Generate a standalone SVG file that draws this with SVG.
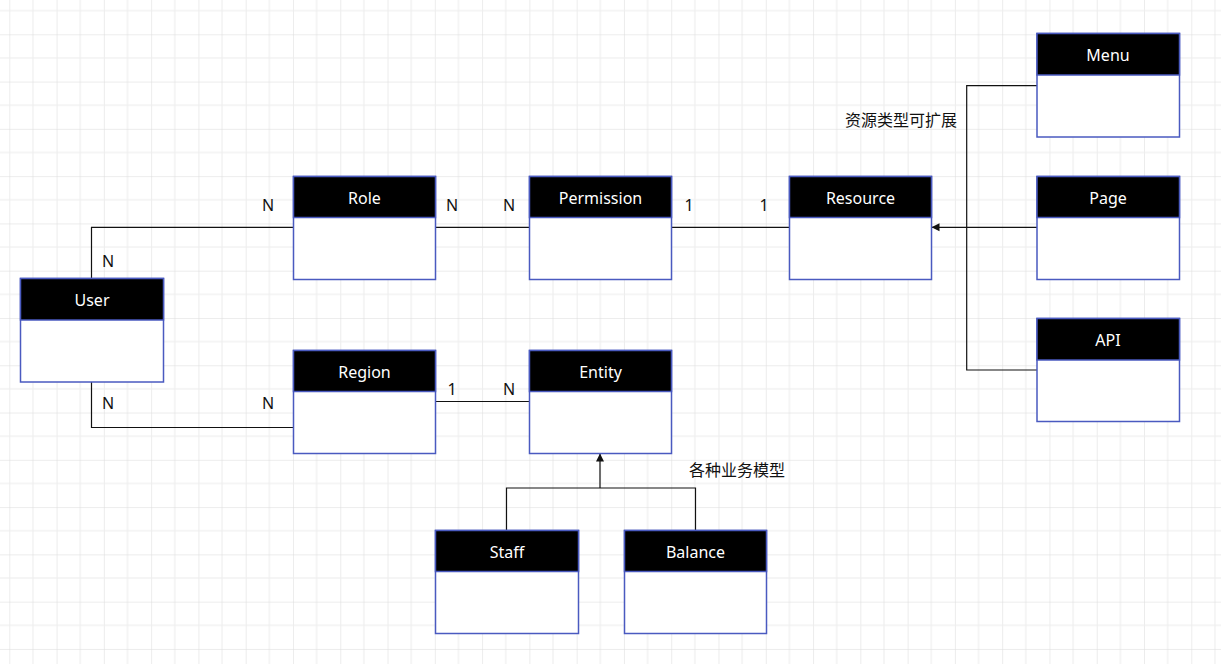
<svg xmlns="http://www.w3.org/2000/svg" width="1221" height="664" viewBox="0 0 1221 664">
<defs>
<pattern id="grid" patternUnits="userSpaceOnUse" x="9.3" y="34.3" width="47.28" height="47.28">
<line x1="0" y1="0" x2="0" y2="47.28" stroke="#dadada" stroke-width="1"/>
<line x1="23.64" y1="0" x2="23.64" y2="47.28" stroke="#ececec" stroke-width="1"/>
<line x1="0" y1="0" x2="47.28" y2="0" stroke="#dadada" stroke-width="1"/>
<line x1="0" y1="23.64" x2="47.28" y2="23.64" stroke="#ececec" stroke-width="1"/>
</pattern>
<marker id="tri" viewBox="0 0 10 10" refX="10" refY="5" markerWidth="8" markerHeight="9" markerUnits="userSpaceOnUse" orient="auto">
<path d="M0,0 L10,5 L0,10 Z" fill="#111"/>
</marker>
<style>
.body{fill:#fff;stroke:#4a5ac0;stroke-width:1.5}
.head{fill:#000;stroke:#4a5ac0;stroke-width:1.5}
.title{font-family:"Noto Sans","Noto Sans CJK SC",sans-serif;font-size:16px;fill:#fff;text-anchor:middle}
.lbl{font-family:"Noto Sans","Noto Sans CJK SC",sans-serif;font-size:16px;fill:#111;text-anchor:middle}
.note{font-family:"Noto Sans CJK SC","Noto Sans",sans-serif;font-size:16px;fill:#111}
.conn{fill:none;stroke:#111;stroke-width:1.2}
</style>
</defs>
<rect width="1221" height="664" fill="#fff"/>
<rect width="1221" height="664" fill="url(#grid)"/>

<g id="connectors">
<polyline class="conn" points="91.5,278.5 91.5,227.3 293.5,227.3"/>
<polyline class="conn" points="91.5,382 91.5,427.5 293.5,427.5"/>
<line class="conn" x1="435.5" y1="227.3" x2="529.5" y2="227.3"/>
<line class="conn" x1="671.5" y1="227.3" x2="789.5" y2="227.3"/>
<line class="conn" x1="435.5" y1="401.5" x2="529.5" y2="401.5"/>
<polyline class="conn" points="1037,85.7 966.7,85.7 966.7,370 1037,370"/>
<line class="conn" x1="1037" y1="227.3" x2="931.5" y2="227.3" marker-end="url(#tri)"/>
<polyline class="conn" points="506.5,530.5 506.5,488 695.5,488 695.5,530.5"/>
<line class="conn" stroke="#333" x1="600" y1="488" x2="600" y2="453.5" marker-end="url(#tri)"/>
<text class="lbl" x="268" y="211">N</text>
<text class="lbl" x="108" y="267">N</text>
<text class="lbl" x="108" y="409">N</text>
<text class="lbl" x="268" y="409">N</text>
<text class="lbl" x="452" y="211">N</text>
<text class="lbl" x="509" y="211">N</text>
<text class="lbl" x="689" y="211">1</text>
<text class="lbl" x="764" y="211">1</text>
<text class="lbl" x="452" y="395">1</text>
<text class="lbl" x="509" y="395">N</text>
<text class="note" x="845" y="126">资源类型可扩展</text>
<text class="note" x="689" y="476">各种业务模型</text>
</g>

<g id="user"><rect class="body" x="20.5" y="278.5" width="143" height="103.5"/><rect class="head" x="20.5" y="278.5" width="143" height="41.5"/><text class="title" x="92" y="305.5">User</text></g>
<g id="role"><rect class="body" x="293.5" y="176.5" width="142" height="103"/><rect class="head" x="293.5" y="176.5" width="142" height="41"/><text class="title" x="364.5" y="203.5">Role</text></g>
<g id="permission"><rect class="body" x="529.5" y="176.5" width="142" height="103"/><rect class="head" x="529.5" y="176.5" width="142" height="41"/><text class="title" x="600.5" y="203.5">Permission</text></g>
<g id="resource"><rect class="body" x="789.5" y="176.5" width="142" height="103"/><rect class="head" x="789.5" y="176.5" width="142" height="41"/><text class="title" x="860.5" y="203.5">Resource</text></g>
<g id="menu"><rect class="body" x="1037" y="33.5" width="142.5" height="103.5"/><rect class="head" x="1037" y="33.5" width="142.5" height="41.5"/><text class="title" x="1108" y="60.5">Menu</text></g>
<g id="page"><rect class="body" x="1037" y="176.5" width="142.5" height="103"/><rect class="head" x="1037" y="176.5" width="142.5" height="41"/><text class="title" x="1108" y="203.5">Page</text></g>
<g id="api"><rect class="body" x="1037" y="318.5" width="142.5" height="103"/><rect class="head" x="1037" y="318.5" width="142.5" height="41.5"/><text class="title" x="1108" y="345.5">API</text></g>
<g id="region"><rect class="body" x="293.5" y="350.5" width="142" height="103"/><rect class="head" x="293.5" y="350.5" width="142" height="41"/><text class="title" x="364.5" y="377.5">Region</text></g>
<g id="entity"><rect class="body" x="529.5" y="350.5" width="142" height="103"/><rect class="head" x="529.5" y="350.5" width="142" height="41"/><text class="title" x="600.5" y="377.5">Entity</text></g>
<g id="staff"><rect class="body" x="435.5" y="530.5" width="143" height="103"/><rect class="head" x="435.5" y="530.5" width="143" height="41"/><text class="title" x="507" y="557.5">Staff</text></g>
<g id="balance"><rect class="body" x="624.5" y="530.5" width="142" height="103"/><rect class="head" x="624.5" y="530.5" width="142" height="41"/><text class="title" x="695.5" y="557.5">Balance</text></g>
</svg>
